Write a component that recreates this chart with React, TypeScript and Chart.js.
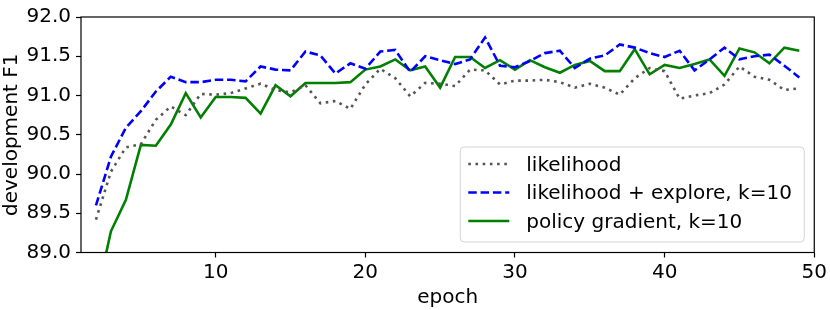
import React, { useEffect, useRef } from 'react';
import { Chart, registerables } from 'chart.js';

Chart.register(...registerables);

const EPOCHS = [2, 3, 4, 5, 6, 7, 8, 9, 10, 11, 12, 13, 14, 15, 16, 17, 18, 19, 20, 21, 22, 23, 24, 25, 26, 27, 28, 29, 30, 31, 32, 33, 34, 35, 36, 37, 38, 39, 40, 41, 42, 43, 44, 45, 46, 47, 48, 49];

const LIKELIHOOD = [89.42, 90.03, 90.34, 90.38, 90.69, 90.86, 90.75, 91.02, 91.01, 91.03, 91.09, 91.15, 91.07, 91.04, 91.13, 90.90, 90.93, 90.83, 91.14, 91.34, 91.22, 90.99, 91.16, 91.15, 91.12, 91.33, 91.32, 91.14, 91.19, 91.19, 91.20, 91.17, 91.10, 91.15, 91.10, 91.01, 91.22, 91.35, 91.31, 90.96, 91.00, 91.03, 91.14, 91.37, 91.24, 91.20, 91.07, 91.09];

const EXPLORE = [89.6, 90.22, 90.59, 90.80, 91.05, 91.24, 91.17, 91.17, 91.20, 91.20, 91.18, 91.37, 91.33, 91.32, 91.56, 91.51, 91.28, 91.41, 91.34, 91.56, 91.58, 91.30, 91.50, 91.45, 91.40, 91.46, 91.74, 91.38, 91.36, 91.44, 91.54, 91.57, 91.35, 91.47, 91.51, 91.65, 91.61, 91.54, 91.49, 91.57, 91.32, 91.46, 91.61, 91.46, 91.50, 91.52, 91.38, 91.23];

const POLICY = [88.4, 89.27, 89.67, 90.37, 90.36, 90.63, 91.03, 90.72, 90.98, 90.98, 90.97, 90.77, 91.13, 90.99, 91.16, 91.16, 91.16, 91.17, 91.33, 91.37, 91.46, 91.32, 91.37, 91.10, 91.49, 91.49, 91.35, 91.45, 91.33, 91.45, 91.36, 91.29, 91.39, 91.44, 91.31, 91.31, 91.59, 91.27, 91.39, 91.35, 91.40, 91.46, 91.25, 91.60, 91.55, 91.41, 91.61, 91.57];

const SERIES_LABELS = ['likelihood', 'likelihood + explore, k=10', 'policy gradient, k=10'];
const X_TICKS = [10, 20, 30, 40, 50];
const Y_TICKS = [89.0, 89.5, 90.0, 90.5, 91.0, 91.5, 92.0];
const X_TITLE = 'epoch';
const Y_TITLE = 'development F1';

const FONT = 'DejaVu Sans';

const framePlugin = {
  id: 'frameAndLegend',
  afterDatasetsDraw(chart: any) {
    const { ctx, chartArea } = chart;
    ctx.save();
    // frame
    ctx.strokeStyle = '#000';
    ctx.lineWidth = 1.2;
    ctx.setLineDash([]);
    ctx.strokeRect(chartArea.left, chartArea.top, chartArea.right - chartArea.left, chartArea.bottom - chartArea.top);

    // legend
    const w = 344;
    const h = 95;
    const x = chartArea.right - 10 - w;
    const y = chartArea.bottom - 10.5 - h;
    const r = 4;
    ctx.beginPath();
    ctx.moveTo(x + r, y);
    ctx.lineTo(x + w - r, y);
    ctx.arcTo(x + w, y, x + w, y + r, r);
    ctx.lineTo(x + w, y + h - r);
    ctx.arcTo(x + w, y + h, x + w - r, y + h, r);
    ctx.lineTo(x + r, y + h);
    ctx.arcTo(x, y + h, x, y + h - r, r);
    ctx.lineTo(x, y + r);
    ctx.arcTo(x, y, x + r, y, r);
    ctx.closePath();
    ctx.fillStyle = 'rgba(255,255,255,0.8)';
    ctx.fill();
    ctx.strokeStyle = '#d4d4d4';
    ctx.lineWidth = 1;
    ctx.stroke();

    const rowY = [17, 45.5, 74];
    chart.data.datasets.forEach((ds: any, i: number) => {
      const cy = y + rowY[i];
      ctx.beginPath();
      ctx.setLineDash(ds.borderDash || []);
      ctx.lineCap = 'butt';
      ctx.strokeStyle = ds.borderColor;
      ctx.lineWidth = ds.borderWidth;
      ctx.moveTo(x + 8, cy);
      ctx.lineTo(x + 49, cy);
      ctx.stroke();
      ctx.setLineDash([]);
      ctx.fillStyle = '#000';
      ctx.font = `20px "${FONT}"`;
      ctx.textBaseline = 'alphabetic';
      ctx.textAlign = 'left';
      ctx.fillText(ds.label, x + 66, cy + 6.8);
    });
    ctx.restore();
  },
};

export default function App() {
  const ref = useRef<HTMLCanvasElement | null>(null);

  useEffect(() => {
    if (!ref.current) return;
    const mk = (vals: number[]) => EPOCHS.map((e, i) => ({ x: e, y: vals[i] }));
    const chart = new Chart(ref.current, {
      type: 'line',
      data: {
        datasets: [
          {
            label: SERIES_LABELS[0],
            data: mk(LIKELIHOOD),
            borderColor: '#555555',
            borderWidth: 2.6,
            borderDash: [2.6, 4.6],
            pointRadius: 0,
            fill: false,
            tension: 0,
            clip: 0,
          },
          {
            label: SERIES_LABELS[1],
            data: mk(EXPLORE),
            borderColor: '#0000ff',
            borderWidth: 2.6,
            borderDash: [8.5, 3.8],
            pointRadius: 0,
            fill: false,
            tension: 0,
            clip: 0,
          },
          {
            label: SERIES_LABELS[2],
            data: mk(POLICY),
            borderColor: '#008000',
            borderWidth: 2.6,
            pointRadius: 0,
            fill: false,
            tension: 0,
            clip: 0,
          },
        ] as any,
      },
      options: {
        animation: false,
        responsive: false,
        maintainAspectRatio: false,
        devicePixelRatio: 1,
        layout: { padding: { top: 9, right: 12, left: 0, bottom: 0 } },
        plugins: {
          legend: { display: false },
          tooltip: { enabled: false },
        },
        scales: {
          x: {
            type: 'linear',
            min: 1,
            max: 50,
            afterBuildTicks: (s: any) => {
              s.ticks = X_TICKS.map((v) => ({ value: v }));
            },
            afterFit: (s: any) => {
              s.height = 57.5;
            },
            grid: { drawOnChartArea: false, drawTicks: true, tickLength: 5, tickColor: '#000', tickWidth: 1.2 },
            border: { display: false },
            ticks: {
              color: '#000',
              font: { family: FONT, size: 20 },
              padding: 3,
              maxRotation: 0,
              autoSkip: false,
              callback: (v: any) => String(v),
            },
            title: {
              display: true,
              text: X_TITLE,
              color: '#000',
              font: { family: FONT, size: 20 },
              padding: { top: 0, bottom: 0 },
            },
          },
          y: {
            type: 'linear',
            min: 89,
            max: 92,
            afterBuildTicks: (s: any) => {
              s.ticks = Y_TICKS.map((v) => ({ value: v }));
            },
            afterFit: (s: any) => {
              s.width = 81;
            },
            grid: { drawOnChartArea: false, drawTicks: true, tickLength: 5, tickColor: '#000', tickWidth: 1.2 },
            border: { display: false },
            ticks: {
              color: '#000',
              font: { family: FONT, size: 20 },
              padding: 5,
              autoSkip: false,
              callback: (v: any) => Number(v).toFixed(1),
            },
            title: {
              display: true,
              text: Y_TITLE,
              color: '#000',
              font: { family: FONT, size: 20 },
              padding: { top: 0, bottom: 0 },
            },
          },
        },
      } as any,
      plugins: [framePlugin],
    });
    return () => chart.destroy();
  }, []);

  return (
    <div style={{ position: 'absolute', left: 0, top: 0, width: 830, height: 310, background: '#fff' }}>
      <canvas ref={ref} width={830} height={310} style={{ width: 830, height: 310 }} />
    </div>
  );
}
